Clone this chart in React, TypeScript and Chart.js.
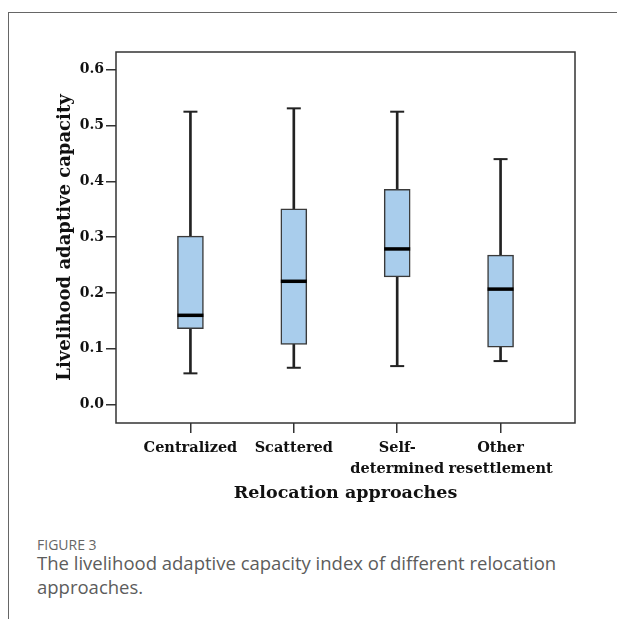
import React, { useEffect, useRef } from "react";
import { Chart, registerables } from "chart.js";

Chart.register(...registerables);

const categories = ["Centralized", "Scattered", "Self-determined", "Other resettlement"];
const tickLabels = [["Centralized"], ["Scattered"], ["Self-", "determined"], ["Other", "resettlement"]];
const whiskerMax = [0.525, 0.531, 0.525, 0.44];
const q3 = [0.302, 0.351, 0.386, 0.268];
const median = [0.16, 0.221, 0.279, 0.207];
const q1 = [0.136, 0.108, 0.229, 0.103];
const whiskerMin = [0.056, 0.066, 0.069, 0.078];
const yTicks = [0.0, 0.1, 0.2, 0.3, 0.4, 0.5, 0.6];

const SERIF = "'DejaVu Serif', serif";

export default function App() {
  const ref = useRef<HTMLCanvasElement | null>(null);

  useEffect(() => {
    const canvas = ref.current;
    if (!canvas) return;
    const idx = categories.map((_, i) => i);

    const framePlugin = {
      id: "frame",
      afterDatasetsDraw(chart: any) {
        const { ctx, chartArea } = chart;
        ctx.save();
        ctx.strokeStyle = "#333";
        ctx.lineWidth = 1.5;
        ctx.strokeRect(chartArea.left, chartArea.top, chartArea.right - chartArea.left, chartArea.bottom - chartArea.top);
        ctx.restore();
      },
    };

    const chart = new Chart(canvas, {
      type: "bar",
      data: {
        datasets: [
          {
            type: "bar",
            label: "whisker",
            data: idx.map((i) => ({ x: i, y: [whiskerMin[i], whiskerMax[i]] })) as any,
            backgroundColor: "#222",
            borderWidth: 0,
            barThickness: 2,
            grouped: false,
            order: 3,
          } as any,
          {
            type: "bar",
            label: "box",
            data: idx.map((i) => ({ x: i, y: [q1[i], q3[i]] })) as any,
            backgroundColor: "#a9cdec",
            borderColor: "#3a3a3a",
            borderWidth: 1.5,
            borderSkipped: false,
            barThickness: 26,
            grouped: false,
            order: 2,
          } as any,
          {
            type: "scatter",
            label: "caps",
            data: [
              ...idx.map((i) => ({ x: i, y: whiskerMax[i] })),
              ...idx.map((i) => ({ x: i, y: whiskerMin[i] })),
            ],
            pointStyle: "line",
            pointRadius: 7,
            borderColor: "#222",
            borderWidth: 2,
            order: 1,
          } as any,
          {
            type: "scatter",
            label: "median",
            data: idx.map((i) => ({ x: i, y: median[i] })),
            pointStyle: "line",
            pointRadius: 13,
            borderColor: "#000",
            borderWidth: 3.5,
            order: 0,
          } as any,
        ],
      },
      options: {
        animation: false,
        responsive: false,
        devicePixelRatio: 1,
        layout: { padding: { top: 39, right: 42, left: 0, bottom: 0 } },
        plugins: { legend: { display: false }, tooltip: { enabled: false } },
        scales: {
          x: {
            type: "linear",
            offset: false,
            min: -0.72,
            max: 3.72,
            afterBuildTicks: (scale: any) => {
              scale.ticks = idx.map((i) => ({ value: i }));
            },
            afterFit: (scale: any) => {
              scale.height = 90;
            },
            ticks: {
              callback: (v: any) => tickLabels[v as number] ?? "",
              color: "#111",
              font: { family: SERIF, weight: "bold", size: 14.5, lineHeight: 1.5 },
              padding: 4,
              maxRotation: 0,
              autoSkip: false,
            },
            grid: { display: true, offset: false, drawOnChartArea: false, drawTicks: true, tickLength: 10, color: "#333", lineWidth: 1.5 },
            border: { display: false },
            title: {
              display: true,
              text: "Relocation approaches",
              color: "#111",
              font: { family: SERIF, weight: "bold", size: 17.5, lineHeight: 1.2 },
              padding: { top: 0, bottom: 9 },
            },
          } as any,
          y: {
            type: "linear",
            min: -0.033,
            max: 0.632,
            afterBuildTicks: (scale: any) => {
              scale.ticks = yTicks.map((v) => ({ value: v }));
            },
            afterFit: (scale: any) => {
              scale.width = 107;
            },
            ticks: {
              callback: (v: any) => Number(v).toFixed(1),
              color: "#111",
              font: { family: SERIF, weight: "bold", size: 14 },
              padding: 2,
            },
            grid: { display: true, drawOnChartArea: false, drawTicks: true, tickLength: 10, color: "#333", lineWidth: 1.5 },
            border: { display: false },
            title: {
              display: true,
              text: "Livelihood adaptive capacity",
              color: "#111",
              font: { family: SERIF, weight: "bold", size: 18, lineHeight: 1.2 },
              padding: { top: 46, bottom: 0 },
            },
          } as any,
        },
      },
      plugins: [framePlugin],
    } as any);

    return () => chart.destroy();
  }, []);

  return (
    <div
      style={{
        position: "absolute",
        left: 8,
        top: 12,
        width: 609,
        height: 607,
        borderTop: "1px solid #666",
        borderLeft: "1px solid #666",
        boxSizing: "border-box",
        overflow: "hidden",
      }}
    >
      <canvas ref={ref} width={608} height={500} style={{ display: "block", width: 608, height: 500 }} />
      <div style={{ paddingLeft: 28, marginTop: 26, fontFamily: "'Open Sans', sans-serif", color: "#5c5c5c" }}>
        <div style={{ fontSize: 14, lineHeight: "12px", color: "#666" }}>FIGURE 3</div>
        <div style={{ fontSize: 18.5, lineHeight: "24px", width: 560 }}>
          The livelihood adaptive capacity index of different relocation approaches.
        </div>
      </div>
    </div>
  );
}
